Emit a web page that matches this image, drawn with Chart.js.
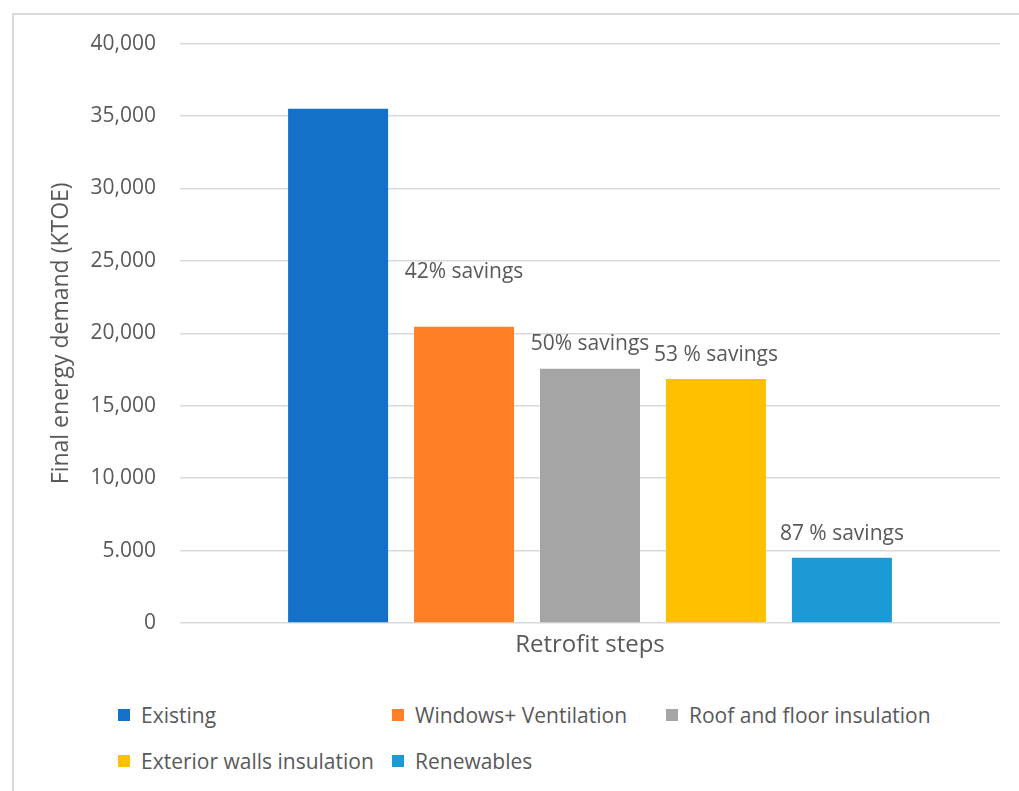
<!DOCTYPE html>
<html>
<head>
<meta charset="utf-8">
<script src="https://cdn.jsdelivr.net/npm/chart.js@4/dist/chart.umd.min.js"></script>
<style>
    html, body { margin: 0; padding: 0; background: #fff; overflow: hidden; }
    #frame {
        position: absolute; left: 12px; top: 13px;
        width: 1100px; height: 900px;
        border: 2px solid #d9d9d9; box-sizing: border-box;
    }
    #salesChart { position: absolute; left: 0; top: 7px; }
    #legend {
        position: absolute; left: 118px; top: 702px;
        display: grid; grid-template-columns: 274px 274px auto;
        row-gap: 20px;
        font-family: "Open Sans", sans-serif; font-size: 21px; color: #595959;
    }
    .item { display: flex; align-items: center; height: 26px; white-space: nowrap; }
    .box { width: 12px; height: 12px; margin-right: 11px; }
</style>
</head>
<body>
<div id="frame"></div>
<canvas id="salesChart" width="1019" height="663"></canvas>
<div id="legend"></div>
<script>
// retrofit steps, final energy demand (KTOE)
const categories = ['Retrofit steps'];
const stepNames = ['Existing', 'Windows+ Ventilation', 'Roof and floor insulation', 'Exterior walls insulation', 'Renewables'];
const stepValues = [35500, 20450, 17550, 16850, 4500];
const savingsLabels = ['', '42% savings', '50% savings', '53 % savings', '87 % savings'];
const tickValues = [0, 5000, 10000, 15000, 20000, 25000, 30000, 35000, 40000];
const tickLabels = ['0', '5.000', '10,000', '15,000', '20,000', '25,000', '30,000', '35,000', '40,000'];

const colors = ['#1570C7', '#FF7F27', '#A5A5A5', '#FFC000', '#1B9AD6'];
const labelLift = [0, 49, 19, 18, 18];
const textColor = '#595959';
const font = 'Open Sans';

const savingsPlugin = {
    id: 'savings',
    afterDatasetsDraw(chart) {
        const ctx = chart.ctx;
        ctx.save();
        ctx.font = '21px "' + font + '"';
        ctx.fillStyle = textColor;
        ctx.textAlign = 'center';
        ctx.textBaseline = 'alphabetic';
        chart.data.datasets.forEach((ds, i) => {
            if (!savingsLabels[i]) return;
            const bar = chart.getDatasetMeta(i).data[0];
            ctx.fillText(savingsLabels[i], bar.x, bar.y - labelLift[i]);
        });
        ctx.restore();
    }
};

new Chart(document.getElementById('salesChart'), {
    type: 'bar',
    data: {
        labels: categories,
        datasets: stepNames.map((name, i) => ({
            label: name,
            data: [stepValues[i]],
            backgroundColor: colors[i],
            categoryPercentage: 0.768,
            barPercentage: 0.794,
        }))
    },
    options: {
        responsive: false,
        animation: false,
        layout: { padding: { left: 48, right: 19, top: 30, bottom: 0 } },
        plugins: {
            legend: { display: false },
            tooltip: { enabled: false }
        },
        scales: {
            y: {
                min: 0,
                max: 40000,
                afterBuildTicks: (scale) => { scale.ticks = tickValues.map(v => ({ value: v })); },
                afterFit: (scale) => { scale.width = 132; },
                ticks: {
                    color: textColor,
                    font: { family: font, size: 21 },
                    padding: 24,
                    callback: (v) => tickLabels[tickValues.indexOf(v)]
                },
                grid: { color: '#d9d9d9', lineWidth: 1.5, drawTicks: false },
                border: { display: false },
                title: {
                    display: true,
                    text: 'Final energy demand (KTOE)',
                    color: textColor,
                    font: { family: font, size: 23 },
                    padding: { top: 0, bottom: 0 }
                }
            },
            x: {
                afterFit: (scale) => { scale.height = 47; },
                ticks: {
                    color: textColor,
                    font: { family: font, size: 24 },
                    padding: 0
                },
                grid: { display: false },
                border: { display: false }
            }
        }
    },
    plugins: [savingsPlugin]
});

const legend = document.getElementById('legend');
stepNames.forEach((name, i) => {
    const item = document.createElement('div');
    item.className = 'item';
    item.innerHTML = '<span class="box" style="background:' + colors[i] + '"></span>' + name;
    legend.appendChild(item);
});
</script>
</body>
</html>
